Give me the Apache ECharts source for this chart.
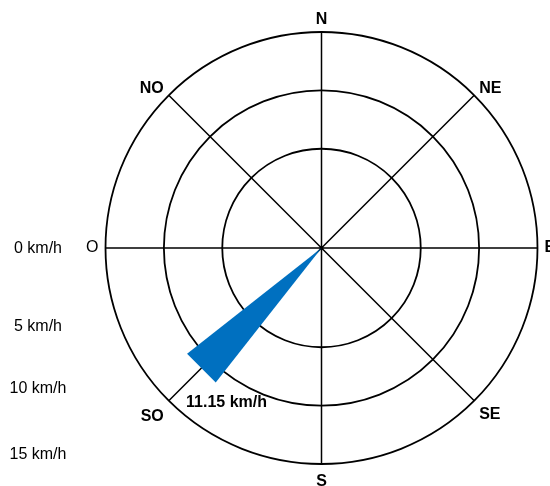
<!DOCTYPE html>
<html>
<head>
<meta charset="utf-8">
<script src="https://cdn.jsdelivr.net/npm/echarts@6/dist/echarts.min.js"></script>
<style>html,body{margin:0;padding:0;background:#fff}#c{width:550px;height:486px}</style>
</head>
<body>
<div id="c"></div>
<script>
// ---- data ----
const directions = ['N', 'NE', 'E', 'SE', 'S', 'SO', 'O', 'NO'];
const directionAngles = [0, 45, 90, 135, 180, 225, 270, 315];
const ringValues = [5, 10, 15];
const speedTickLabels = ['0 km/h', '5 km/h', '10 km/h', '15 km/h'];
const windDirection = [225];
const windSpeed = [11.15];
const windLabel = ['11.15 km/h'];

// ---- layout / style constants ----
const FONT = "'Liberation Sans', Arial, Helvetica, sans-serif";
const WEDGE_HALF = 6.8;
const tickLabelYs = [248.5, 327, 389, 455];
const richKey = { N: 'n', NE: 'nd', NO: 'nd', E: 'e', O: 'w', SE: 'se', SO: 'so', S: 's' };
const bold = { fontWeight: 'bold', fontSize: 16, fontFamily: FONT, color: '#000' };

const chart = echarts.init(document.getElementById('c'));
chart.setOption({
  animation: false,
  backgroundColor: '#fff',
  polar: { center: [321.5, 248], radius: 216 },
  angleAxis: {
    type: 'value', min: 0, max: 360, interval: 45, startAngle: 90, clockwise: true,
    axisLine: { show: false },
    axisTick: { show: false },
    splitLine: { show: true, lineStyle: { color: '#000', width: 1.5 } },
    axisLabel: {
      margin: 7, fontSize: 16, fontWeight: 'bold', color: '#000', fontFamily: FONT,
      formatter: function (v) {
        const i = directionAngles.indexOf(v);
        if (i < 0) return '';
        const t = directions[i];
        return '{' + richKey[t] + '|' + t + '}';
      },
      rich: {
        n: Object.assign({ lineHeight: 10 }, bold),
        nd: Object.assign({ lineHeight: 4 }, bold),
        e: Object.assign({}, bold),
        w: { fontWeight: 'normal', fontSize: 16, fontFamily: FONT, color: '#000' },
        se: Object.assign({ lineHeight: 18 }, bold),
        so: Object.assign({ lineHeight: 22 }, bold),
        s: Object.assign({ lineHeight: 22 }, bold)
      }
    }
  },
  radiusAxis: {
    type: 'value', min: -3.5, max: 15,
    axisLine: { show: false }, axisTick: { show: false },
    axisLabel: { show: false }, splitLine: { show: false }
  },
  series: [
    {
      type: 'custom', coordinateSystem: 'polar', silent: true, z: 2,
      data: ringValues.map(v => [v, 0]),
      renderItem: function (params, api) {
        const cs = params.coordSys;
        const p = api.coord([api.value(0), 0]);
        const r = Math.hypot(p[0] - cs.cx, p[1] - cs.cy);
        return { type: 'circle', shape: { cx: cs.cx, cy: cs.cy, r: r },
          style: { fill: null, stroke: '#000', lineWidth: 1.8 } };
      }
    },
    {
      type: 'custom', coordinateSystem: 'polar', z: 3,
      data: windSpeed.map((s, i) => [s, windDirection[i]]),
      renderItem: function (params, api) {
        const cs = params.coordSys;
        const s = api.value(0), d = api.value(1);
        const a = api.coord([s, d - WEDGE_HALF]);
        const b = api.coord([s, d + WEDGE_HALF]);
        const tip = api.coord([s, d]);
        return { type: 'group', children: [
          { type: 'polygon', shape: { points: [[cs.cx, cs.cy], a, b] }, style: { fill: '#0070C0' } },
          { type: 'text', x: tip[0] + 26, y: tip[1] + 34,
            style: { text: windLabel[params.dataIndex], fill: '#000', fontSize: 16, fontWeight: 'bold',
              fontFamily: FONT, align: 'center', verticalAlign: 'middle' } }
        ] };
      }
    }
  ],
  graphic: speedTickLabels.map((t, i) => ({
    type: 'text', x: 38, y: tickLabelYs[i],
    style: { text: t, fill: '#000', fontSize: 16, fontFamily: FONT, align: 'center', verticalAlign: 'middle' }
  }))
});
</script>
</body>
</html>
